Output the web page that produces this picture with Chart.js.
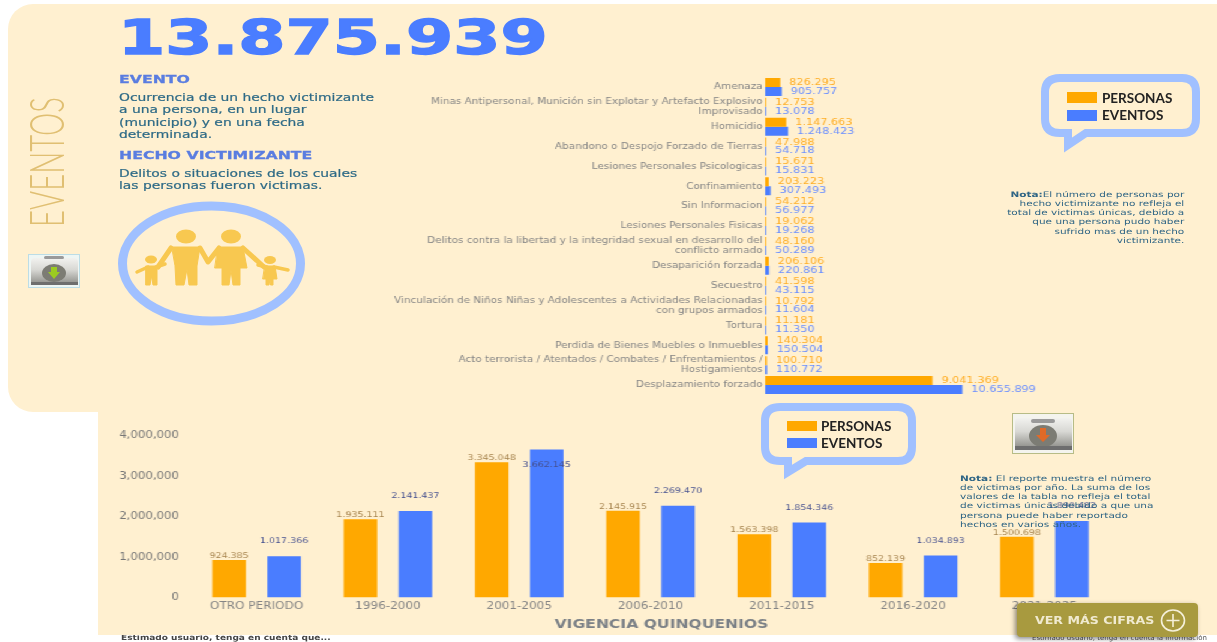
<!DOCTYPE html>
<html lang="es">
<head>
<meta charset="utf-8">
<title>Eventos</title>
<script src="https://cdn.jsdelivr.net/npm/chart.js@4/dist/chart.umd.min.js"></script>
<style>
html,body{margin:0;padding:0;background:#fff;width:1217px;height:642px;overflow:hidden;font-family:"DejaVu Sans",sans-serif}
#stage{position:relative;width:1217px;height:642px;overflow:hidden;filter:blur(.45px)}
.abs{position:absolute;white-space:nowrap;transform-origin:0 0}
#p1{position:absolute;left:8px;top:4px;width:1209px;height:408px;background:#fff0d0;border-radius:25px 0 0 25px}
#p2{position:absolute;left:98px;top:400px;width:1119px;height:235px;background:#fff0d0}
canvas{position:absolute}
#topWrap{position:absolute;left:380px;top:70px;width:583.33px;height:332px;transform:scaleX(1.2);transform-origin:0 0}
#botWrap{position:absolute;left:110px;top:420px;width:919.17px;height:215px;transform:scaleX(1.2);transform-origin:0 0}
.big{left:118px;top:6px;font-size:48px;font-weight:700;color:#4a7dff;transform:scaleX(1.415);line-height:62px;-webkit-text-stroke:1.4px #4a7dff}
.h{font-weight:700;font-size:11px;color:#5a7de0;line-height:14px;-webkit-text-stroke:.3px #5a7de0}
.b{font-size:10.5px;color:#2e6a86;line-height:12.4px;transform:scaleX(1.32);-webkit-text-stroke:.2px #2e6a86}
.legtxt{font-family:"Lato","Noto Sans",sans-serif;font-weight:700;font-size:13.5px;color:#222;line-height:14px}
.note{font-size:7.6px;line-height:9.15px;color:#2f6585}
.sw{position:absolute}
#btn{position:absolute;left:1017px;top:603px;width:181px;height:34px;background:#a89a3f;border-radius:4px;box-shadow:-2px 2px 5px rgba(0,0,0,.45)}
</style>
</head>
<body>
<div id="stage">
<div class="abs" style="left:121px;top:633px;font-size:7.5px;font-weight:700;color:#444;transform:scaleX(1.2)">Estimado usuario, tenga en cuenta que...</div>
<div class="abs" style="left:1032px;top:634px;font-size:7px;color:#555">Estimado usuario, tenga en cuenta la información</div>
<div id="p1"></div><div id="p2"></div>

<div class="abs big">13.875.939</div>
<div class="abs" style="left:28px;top:227px;font-family:Lato,'Noto Sans',sans-serif;font-weight:300;font-size:48px;line-height:36px;color:#e0bf72;transform:rotate(-90deg) scaleX(.61)">EVENTOS</div>

<div class="abs h" style="left:119px;top:73px;transform:scaleX(1.43)">EVENTO</div>
<div class="abs b" style="left:119px;top:91px">Ocurrencia de un hecho victimizante<br>a una persona, en un lugar<br>(municipio) y en una fecha<br>determinada.</div>
<div class="abs h" style="left:119px;top:149px;transform:scaleX(1.43)">HECHO VICTIMIZANTE</div>
<div class="abs b" style="left:119px;top:167px">Delitos o situaciones de los cuales<br>las personas fueron victimas.</div>

<svg class="abs" style="left:0;top:0" width="1217" height="642" viewBox="0 0 1217 642">
  <defs>
    <linearGradient id="brief" x1="0" y1="0" x2="0" y2="1"><stop offset="0" stop-color="#f2f2ef"/><stop offset=".45" stop-color="#d8d8d4"/><stop offset="1" stop-color="#8f8f8a"/></linearGradient>
  </defs>
  <ellipse cx="211.5" cy="263.5" rx="89" ry="57.5" fill="none" stroke="#a0c0ff" stroke-width="9"/>
  <g fill="#f8c850" stroke="#f8c850" stroke-linecap="round" stroke-linejoin="round">
    <ellipse cx="186" cy="236.5" rx="10" ry="7" stroke="none"/>
    <ellipse cx="231" cy="236.5" rx="10" ry="7" stroke="none"/>
    <ellipse cx="151" cy="259.5" rx="6" ry="4" stroke="none"/>
    <ellipse cx="270" cy="260" rx="6" ry="4" stroke="none"/>
    <path d="M172 247 L200 247 L197 266 L197 285 L189 285 L187 269 L184 285 L176 285 L175 266 Z" stroke-width="1"/>
    <path d="M171 248 L158 267" stroke-width="5" fill="none"/>
    <path d="M200 248 L208 262 L219 248" stroke-width="5" fill="none"/>
    <path d="M218 247 L243 247 L247 268 L240 268 L240 285 L233 285 L231 270 L229 285 L222 285 L222 268 L215 268 Z" stroke-width="1"/>
    <path d="M243 248 L264 267" stroke-width="5" fill="none"/>
    <path d="M146 266 L157 266 L157 285 L153 285 L151.500 276 L150 285 L146 285 Z" stroke-width="1"/>
    <path d="M137 272 L148 267 M156 267 L165 264" stroke-width="3.500" fill="none"/>
    <path d="M265 266 L275 266 L277 279 L273 279 L273 285 L270.500 285 L270 279 L269 285 L266 285 L266 279 L263 279 Z" stroke-width="1"/>
    <path d="M258 265 L267 267 M274 267 L288 270" stroke-width="3.500" fill="none"/>
  </g>
  <g>
    <rect x="28.500" y="254.500" width="51" height="33" fill="#eef6f4" stroke="#bcdde6"/>
    <path d="M31 262 Q31 258 35 258 L74 258 Q78 258 78 262 L78 284 L31 284 Z" fill="url(#brief)"/>
    <rect x="44" y="256" width="20" height="3" rx="1.500" fill="#9a9a9a"/>
    <ellipse cx="54" cy="273" rx="12" ry="9" fill="#7c7c74"/>
    <path d="M51 267 L57 267 L57 272 L60 272 L54 279 L48 272 L51 272 Z" fill="#9ccc20"/>
    <rect x="31" y="282" width="47" height="3" fill="#6e6e6e"/>
    <rect x="1012.500" y="413.500" width="61" height="40" fill="#f4f4ee" stroke="#b7bc86"/>
    <path d="M1015 422 Q1015 418 1019 418 L1068 418 Q1072 418 1072 422 L1072 448 L1015 448 Z" fill="url(#brief)"/>
    <rect x="1031" y="419" width="24" height="4" rx="2" fill="#9a9a9a"/>
    <ellipse cx="1043" cy="436" rx="14" ry="11" fill="#7c7c74"/>
    <path d="M1040 428 L1046 428 L1046 435 L1050 435 L1043 442 L1036 435 L1040 435 Z" fill="#e06a28"/>
    <rect x="1015" y="446" width="57" height="4" fill="#6e6e6e"/>
  </g>
</svg>

<div id="topWrap"><canvas id="topChart"></canvas></div>
<div id="botWrap"><canvas id="botChart"></canvas></div>

<svg class="abs" style="left:0;top:0" width="1217" height="642" viewBox="0 0 1217 642">
  <path d="M1060 78 H1182 Q1196 78 1196 92 V119 Q1196 133 1182 133 H1086 L1068 145 V133 H1060 Q1045 133 1045 119 V92 Q1045 78 1060 78 Z" fill="#fff0d0" stroke="#a0c0ff" stroke-width="8"/>
  <path d="M780 407 H898 Q912 407 912 421 V447 Q912 461 898 461 H806 L788 472 V461 H780 Q765 461 765 447 V421 Q765 407 780 407 Z" fill="#fff0d0" stroke="#a0c0ff" stroke-width="8"/>
</svg>
<div class="sw" style="left:1067px;top:92px;width:30px;height:11px;background:#ffa800"></div>
<div class="sw" style="left:1067px;top:110px;width:30px;height:11px;background:#4a7dff"></div>
<div class="abs legtxt" style="left:1102px;top:91px">PERSONAS</div>
<div class="abs legtxt" style="left:1102px;top:108px">EVENTOS</div>
<div class="sw" style="left:787px;top:421px;width:30px;height:10px;background:#ffa800"></div>
<div class="sw" style="left:787px;top:438px;width:30px;height:10px;background:#4a7dff"></div>
<div class="abs legtxt" style="left:821px;top:419px">PERSONAS</div>
<div class="abs legtxt" style="left:821px;top:436px">EVENTOS</div>

<div class="abs note" style="right:33px;top:190px;text-align:right;transform:scaleX(1.38);transform-origin:100% 0"><b>Nota:</b>El número de personas por<br>hecho victimizante no refleja el<br>total de victimas únicas, debido a<br>que una persona pudo haber<br>sufrido mas de un hecho<br>victimizante.</div>
<div class="abs note" style="left:960px;top:474px;transform:scaleX(1.387)"><b>Nota:</b> El reporte muestra el número<br>de victimas por año. La suma de los<br>valores de la tabla no refleja el total<br>de victimas únicas debido a que una<br>persona puede haber reportado<br>hechos en varios años.</div>

<div id="btn"></div>
<div class="abs" style="left:1035px;top:613px;font-size:10.5px;font-weight:700;color:#f0ead0;line-height:14px;transform:scaleX(1.2)">VER MÁS CIFRAS</div>
<svg class="abs" style="left:1159px;top:608px" width="28" height="26" viewBox="0 0 28 26"><ellipse cx="14" cy="12.500" rx="11.500" ry="10.500" fill="none" stroke="#f5f0da" stroke-width="1.600"/><path d="M14 6 V19 M7.500 12.500 H20.500" stroke="#f5f0da" stroke-width="1.600"/></svg>
</div>

<script>
// ---------- hechos victimizantes (horizontal chart) ----------
const hechos = [
  "Amenaza",
  ["Minas Antipersonal, Munición sin Explotar y Artefacto Explosivo", "Improvisado"],
  "Homicidio",
  "Abandono o Despojo Forzado de Tierras",
  "Lesiones Personales Psicologicas",
  "Confinamiento",
  "Sin Informacion",
  "Lesiones Personales Fisicas",
  ["Delitos contra la libertad y la integridad sexual en desarrollo del", "conflicto armado"],
  "Desaparición forzada",
  "Secuestro",
  ["Vinculación de Niños Niñas y Adolescentes a Actividades Relacionadas", "con grupos armados"],
  "Tortura",
  "Perdida de Bienes Muebles o Inmuebles",
  ["Acto terrorista / Atentados / Combates / Enfrentamientos /", "Hostigamientos"],
  "Desplazamiento forzado"
];
const hechosPersonas = [826295, 12753, 1147663, 47988, 15671, 203223, 54212, 19062, 48160, 206106, 41598, 10792, 11181, 140304, 100710, 9041369];
const hechosEventos  = [905757, 13078, 1248423, 54718, 15831, 307493, 56977, 19268, 50289, 220861, 43115, 11604, 11350, 150504, 110772, 10655899];

// ---------- vigencia (vertical chart) ----------
const quinquenios = ["OTRO PERIODO", "1996-2000", "2001-2005", "2006-2010", "2011-2015", "2016-2020", "2021-2025"];
const vigenciaPersonas = [924385, 1935111, 3345048, 2145915, 1563398, 852139, 1500698];
const vigenciaEventos  = [1017366, 2141437, 3662145, 2269470, 1854346, 1034893, 1890482];
const yTicks = [0, 1000000, 2000000, 3000000, 4000000];

const ORANGE = "#ffa800", BLUE = "#4a7dff";
const dotted = v => String(v).replace(/\B(?=(\d{3})+$)/g, ".");
const comma  = v => String(v).replace(/\B(?=(\d{3})+$)/g, ",");

const hLabels = {
  id: "hLabels",
  afterDatasetsDraw(c) {
    const x = c.ctx;
    x.save();
    x.font = "9.4px 'DejaVu Sans'";
    x.textAlign = "left"; x.textBaseline = "middle";
    c.data.datasets.forEach((d, i) => {
      x.fillStyle = i ? "#6a8eff" : "#ffae25";
      c.getDatasetMeta(i).data.forEach((el, j) => x.fillText(dotted(d.data[j]), el.x + 7.5, el.y));
    });
    x.restore();
  }
};
const vLabels = {
  id: "vLabels",
  afterDatasetsDraw(c) {
    const x = c.ctx;
    x.save();
    x.font = "7.9px 'DejaVu Sans'";
    x.textAlign = "center"; x.textBaseline = "middle";
    c.data.datasets.forEach((d, i) => {
      x.fillStyle = i ? "#45508f" : "#a5824c";
      c.getDatasetMeta(i).data.forEach((el, j) => {
        let y = el.y - (i ? 15 : 4);
        if (y <= c.chartArea.top + 1) y = el.y + 15;
        x.fillText(dotted(d.data[j]), el.x, y);
      });
    });
    x.restore();
  }
};

new Chart(document.getElementById("topChart"), {
  type: "bar",
  plugins: [hLabels],
  data: {
    labels: hechos,
    datasets: [
      { label: "PERSONAS", data: hechosPersonas, backgroundColor: ORANGE, minBarLength: 1 },
      { label: "EVENTOS",  data: hechosEventos,  backgroundColor: BLUE,   minBarLength: 1 }
    ]
  },
  options: {
    indexAxis: "y", responsive: true, maintainAspectRatio: false, animation: false,
    layout: { padding: { top: 6, bottom: 6.5, left: 0, right: 0 } },
    categoryPercentage: 0.9, barPercentage: 1,
    plugins: { legend: { display: false }, tooltip: { enabled: false } },
    scales: {
      x: { display: false, min: 0, max: 17000000 },
      y: {
        afterFit(s) { s.width = 320.83; },
        grid: { display: false, drawTicks: false, tickLength: 0 }, border: { display: false },
        ticks: { autoSkip: false, padding: 2, color: "#858585", font: { family: "'DejaVu Sans'", size: 8.7, lineHeight: 1.15 } }
      }
    }
  }
});

new Chart(document.getElementById("botChart"), {
  type: "bar",
  plugins: [vLabels],
  data: {
    labels: quinquenios,
    datasets: [
      { label: "PERSONAS", data: vigenciaPersonas, backgroundColor: ORANGE, yAxisID: "y" },
      { label: "EVENTOS",  data: vigenciaEventos,  backgroundColor: BLUE,   yAxisID: "y" }
    ]
  },
  options: {
    responsive: true, maintainAspectRatio: false, animation: false,
    layout: { padding: { top: 13, bottom: 3, left: 0, right: 0 } },
    categoryPercentage: 0.838, barPercentage: 0.61,
    plugins: {
      legend: { display: false }, tooltip: { enabled: false },
      title: { display: true, position: "bottom", fullSize: true, text: "VIGENCIA QUINQUENIOS", color: "#7b8086",
               font: { family: "'DejaVu Sans'", size: 13, weight: "bold", lineHeight: 1.2 }, padding: { top: 0, bottom: 0 } }
    },
    scales: {
      x: {
        grid: { display: false, drawTicks: false, tickLength: 0 }, border: { display: false },
        ticks: { autoSkip: false, maxRotation: 0, padding: 3.5, color: "#858585", font: { family: "'DejaVu Sans'", size: 10 } }
      },
      y: {
        min: 0, max: 4000000,
        afterFit(s) { s.width = 67.5; },
        afterBuildTicks(s) { s.ticks = yTicks.map(v => ({ value: v })); },
        grid: { display: false, drawTicks: false, tickLength: 0 }, border: { display: false },
        ticks: { padding: 10, color: "#777", font: { family: "'DejaVu Sans'", size: 9.8 }, callback: v => comma(v) }
      },
      // empty right-hand axis: keeps the plot clear of the note area while the title stays centred on the canvas
      spacer: {
        type: "linear", position: "right", display: true,
        afterFit(s) { s.width = 85.83; },
        grid: { display: false, drawTicks: false, tickLength: 0 }, border: { display: false },
        ticks: { display: false }
      }
    }
  }
});
</script>
</body>
</html>
